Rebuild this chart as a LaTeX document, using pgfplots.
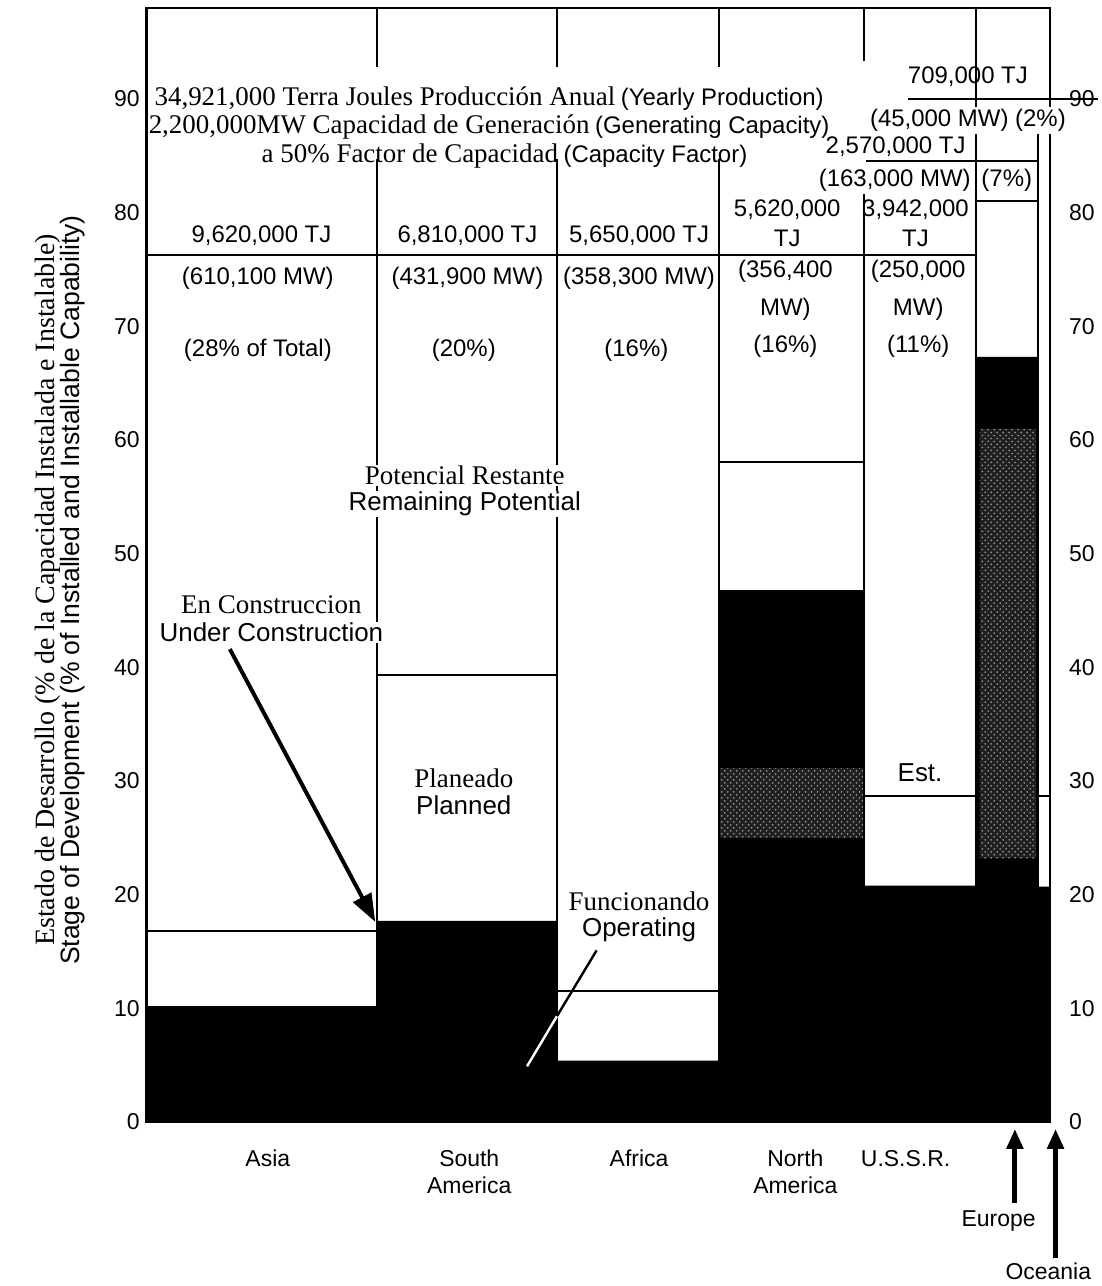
\documentclass[border=0pt]{standalone}
\usepackage{pgfplots}
\pgfplotsset{compat=1.18}
\usepackage{fontspec}
\setmainfont{Liberation Sans}
\newfontfamily\serif{Liberation Serif}
\usetikzlibrary{arrows.meta,patterns}

\newcommand\lab{\fontsize{12}{14}\selectfont}
\newcommand\lbig{\fontsize{13}{15}\selectfont}
\newcommand\ser{\fontsize{13.5}{15}\selectfont\serif}
\newcommand\reg{\fontsize{11.5}{13}\selectfont}

\begin{document}
\begin{tikzpicture}[x=1pt,y=1pt]
\path (0,0) rectangle (550.5,643);
\begin{axis}[
  at={(73.5pt,81pt)}, anchor=south west,
  width=452.5pt, height=558pt, scale only axis,
  xmin=0, xmax=100, ymin=0, ymax=98,
  xtick=\empty,
  ytick={0,10,...,90},
  major tick length=0pt,
  yticklabel style={font=\fontsize{11.5}{13}\selectfont},
  /pgf/number format/assume math mode=true,
  axis line style={line width=1.3pt},
  clip=false,
  unbounded coords=jump,
]
% operating (black), one step per region
\addplot[const plot, fill=black, draw=none] coordinates {
  (0,10.2) (25.5,17.7) (45.4,5.4) (63.3,46.8) (79.4,20.8) (91.8,67.3) (98.7,20.7) (100,20.7)} \closedcycle;
% stippled parts
\addplot[fill=black!88, draw=none, postaction={pattern=crosshatch dots, pattern color=black!45}]
  coordinates {(63.3,25.0) (79.4,25.0) (79.4,31.1) (63.3,31.1)};
\addplot[fill=black!88, draw=none, postaction={pattern=crosshatch dots, pattern color=black!45}]
  coordinates {(92.2,23.2) (98.4,23.2) (98.4,61.0) (92.2,61.0)};
% top of planned / estimated boxes
\addplot[const plot, line width=1pt, mark=none] coordinates {
  (0,16.8) (25.5,39.3) (45.4,11.5) (63.3,58.1) (79.4,28.7) (91.8,81.0) (98.7,28.7) (100,28.7)};
% column dividers
\addplot[line width=1pt, mark=none] coordinates {
  (25.5,0) (25.5,84.7) (nan,nan) (25.5,92.8) (25.5,98) (nan,nan)
  (45.4,0) (45.4,84.7) (nan,nan) (45.4,92.8) (45.4,98) (nan,nan)
  (63.3,0) (63.3,84.7) (nan,nan) (63.3,92.8) (63.3,98) (nan,nan)
  (79.4,0) (79.4,81.6) (nan,nan) (79.4,93.3) (79.4,98) (nan,nan)
  (91.8,0) (91.8,98) (nan,nan)
  (98.7,0) (98.7,87.1)};
% totals lines
\addplot[line width=1pt, mark=none] coordinates {
  (0,76.3) (91.8,76.3) (nan,nan)
  (79.6,84.5) (98.7,84.5) (nan,nan)
  (84.3,90) (105.3,90)};

% title
\node at (axis cs:37.9,90.0) {{\ser 34,921,000 Terra Joules Producción Anual} {\lab(Yearly Production)}};
\node at (axis cs:37.9,87.5) {{\ser 2,200,000MW Capacidad de Generación} {\lab(Generating Capacity)}};
\node at (axis cs:39.6,85.0) {{\ser a 50\% Factor de Capacidad} {\lab(Capacity Factor)}};

% Oceania, Europe
\node at (axis cs:90.9,92.0) {\lab 709,000 TJ};
\node[fill=white, inner sep=1pt] at (axis cs:90.9,88.1) {\lab (45,000 MW) (2\%)};
\node at (axis cs:82.9,85.8) {\lab 2,570,000 TJ};
\node at (axis cs:82.8,82.8) {\lab (163,000 MW)};
\node[fill=white, inner sep=1pt] at (axis cs:95.2,82.8) {\lab (7\%)};

% totals per region
\node at (axis cs:12.7,78.0) {\lab 9,620,000 TJ};
\node at (axis cs:35.5,78.0) {\lab 6,810,000 TJ};
\node at (axis cs:54.5,78.0) {\lab 5,650,000 TJ};
\node at (axis cs:70.9,80.3) {\lab 5,620,000};
\node at (axis cs:70.9,77.7) {\lab TJ};
\node at (axis cs:85.1,80.3) {\lab 3,942,000};
\node at (axis cs:85.1,77.7) {\lab TJ};

\node at (axis cs:12.3,74.2) {\lab (610,100 MW)};
\node at (axis cs:35.5,74.2) {\lab (431,900 MW)};
\node at (axis cs:54.5,74.2) {\lab (358,300 MW)};
\node at (axis cs:70.7,74.8) {\lab (356,400};
\node at (axis cs:70.7,71.5) {\lab MW)};
\node at (axis cs:85.4,74.8) {\lab (250,000};
\node at (axis cs:85.4,71.5) {\lab MW)};

\node at (axis cs:12.3,67.9) {\lab (28\% of Total)};
\node at (axis cs:35.1,67.9) {\lab (20\%)};
\node at (axis cs:54.2,67.9) {\lab (16\%)};
\node at (axis cs:70.7,68.2) {\lab (16\%)};
\node at (axis cs:85.4,68.2) {\lab (11\%)};

% stage labels
\node[fill=white, inner sep=0.5pt] at (axis cs:35.2,56.9) {\ser Potencial Restante};
\node[fill=white, inner sep=0.5pt] at (axis cs:35.2,54.4) {\lbig Remaining Potential};
\node[fill=white, inner sep=0.5pt] at (axis cs:13.8,45.5) {\ser En Construccion};
\node[fill=white, inner sep=0.5pt] at (axis cs:13.8,43.1) {\lbig Under Construction};
\draw[line width=2pt, -{Triangle[length=14pt,width=10pt]}] (axis cs:9.2,41.6) -- (axis cs:25.3,17.6);
\node[inner sep=0.5pt] at (axis cs:35.1,30.2) {\ser Planeado};
\node[inner sep=0.5pt] at (axis cs:35.1,27.9) {\lbig Planned};
\node[inner sep=0.5pt] at (axis cs:54.5,19.45) {\ser Funcionando};
\node[inner sep=0.5pt] at (axis cs:54.5,16.9) {\lbig Operating};
\draw[line width=1.2pt] (axis cs:49.8,15.1) -- (axis cs:45.4,9.3);
\draw[line width=1.2pt, white] (axis cs:45.4,9.3) -- (axis cs:42.1,4.9);
\node at (axis cs:85.6,30.7) {\lbig Est.};

% region names
\node at (axis cs:13.4,-3.2) {\reg Asia};
\node at (axis cs:35.7,-3.2) {\reg South};
\node at (axis cs:35.7,-5.6) {\reg America};
\node at (axis cs:54.5,-3.2) {\reg Africa};
\node at (axis cs:71.8,-3.2) {\reg North};
\node at (axis cs:71.8,-5.6) {\reg America};
\node at (axis cs:84.0,-3.2) {\reg U.S.S.R.};
\draw[line width=2.5pt, -{Triangle[length=10pt,width=8pt]}] (axis cs:96.1,-7.1) -- (axis cs:96.1,-0.6);
\node at (axis cs:94.3,-8.7) {\reg Europe};
\draw[line width=2.5pt, -{Triangle[length=10pt,width=8pt]}] (axis cs:100.6,-12.0) -- (axis cs:100.6,-0.6);
\node at (axis cs:99.8,-13.1) {\reg Oceania};

% axis title
\node[rotate=90, align=center] at (axis cs:-9.6,46.8)
  {{\fontsize{14}{14}\selectfont\serif Estado de Desarrollo (\% de la Capacidad Instalada e Instalable)}\\[-1pt]
   {\fontsize{13.3}{14}\selectfont Stage of Development (\% of Installed and Installable Capability)}};
\end{axis}

% right-hand tick labels
\begin{axis}[
  at={(73.5pt,81pt)}, anchor=south west,
  width=452.5pt, height=558pt, scale only axis,
  xmin=0, xmax=100, ymin=0, ymax=98,
  axis x line=none, axis y line*=right,
  axis line style={draw=none},
  ytick={0,10,...,90},
  major tick length=0pt,
  yticklabel style={font=\fontsize{11.5}{13}\selectfont, xshift=6pt},
  /pgf/number format/assume math mode=true,
]
\end{axis}
\end{tikzpicture}
\end{document}
